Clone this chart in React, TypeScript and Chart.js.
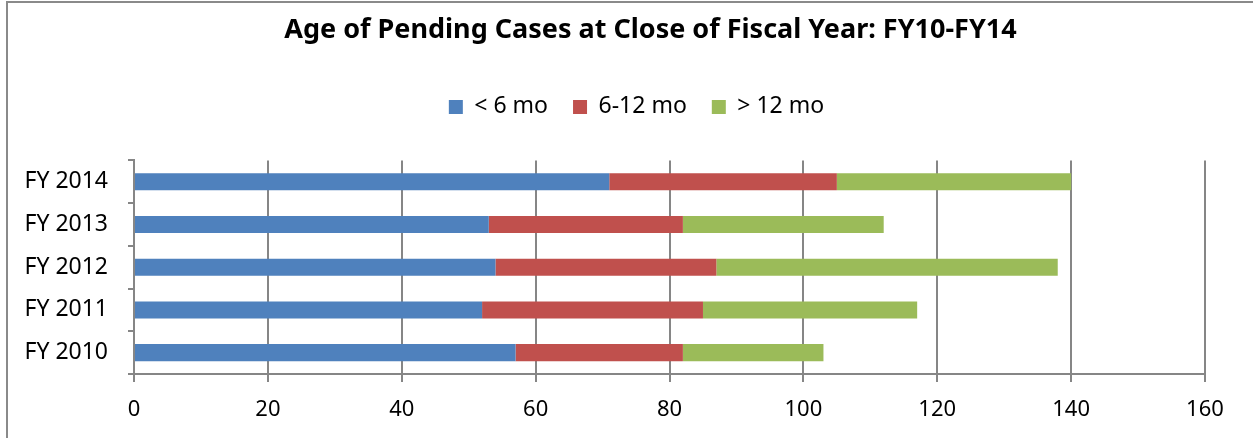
import React, { useEffect, useRef } from "react";
import { Chart, registerables } from "chart.js";

Chart.register(...registerables);

const categories = ["FY 2010", "FY 2011", "FY 2012", "FY 2013", "FY 2014"];
const seriesNames = ["< 6 mo", "6-12 mo", "> 12 mo"];
const lessThan6 = [57, 52, 54, 53, 71];
const between6and12 = [25, 33, 33, 29, 34];
const moreThan12 = [21, 32, 51, 30, 35];
const xTicks = [0, 20, 40, 60, 80, 100, 120, 140, 160];

const FONT = "'Noto Sans', 'Liberation Sans', sans-serif";
const LEGEND_EXTRA = 32;
const TITLE_SHIFT = 38;
const LEGEND_SHIFT = 24;

const layoutTweaks = {
  id: "layoutTweaks",
  afterInit(chart: any) {
    const lg = chart.legend;
    if (lg) {
      const fit = lg.fit;
      lg.fit = function (this: any) {
        fit.call(this);
        this.height += LEGEND_EXTRA;
      };
    }
  },
  afterLayout(chart: any) {
    const t = chart.titleBlock;
    if (t) {
      t.left += TITLE_SHIFT;
      t.right += TITLE_SHIFT;
    }
    const lg = chart.legend;
    if (lg) {
      lg.left += LEGEND_SHIFT;
      lg.right += LEGEND_SHIFT;
    }
  },
};

export default function App() {
  const ref = useRef<HTMLCanvasElement | null>(null);

  useEffect(() => {
    document.body.style.margin = "0";
    document.body.style.overflow = "hidden";
    const canvas = ref.current;
    if (!canvas) return;
    const chart = new Chart(canvas, {
      type: "bar",
      plugins: [layoutTweaks],
      data: {
        labels: categories,
        datasets: [
          { label: seriesNames[0], data: lessThan6, backgroundColor: "#4F81BD" },
          { label: seriesNames[1], data: between6and12, backgroundColor: "#C0504D" },
          { label: seriesNames[2], data: moreThan12, backgroundColor: "#9BBB59" },
        ],
      },
      options: {
        indexAxis: "y",
        responsive: false,
        animation: false,
        maintainAspectRatio: false,
        datasets: { bar: { barPercentage: 0.4, categoryPercentage: 1, borderWidth: 0 } },
        layout: { padding: { left: 20, right: 48, top: 0, bottom: 0 } },
        plugins: {
          tooltip: { enabled: false },
          title: {
            display: true,
            text: "Age of Pending Cases at Close of Fiscal Year: FY10-FY14",
            color: "#000",
            font: { family: FONT, size: 27, weight: "bold" },
            padding: { top: 14, bottom: 24 },
          },
          legend: {
            display: true,
            position: "top",
            labels: {
              color: "#000",
              font: { family: FONT, size: 23 },
              boxWidth: 14,
              boxHeight: 14,
              padding: 25,
            },
          },
        },
        scales: {
          x: {
            stacked: true,
            min: 0,
            max: 160,
            afterBuildTicks: (scale: any) => {
              scale.ticks = xTicks.map((v) => ({ value: v }));
            },
            afterFit: (scale: any) => {
              scale.height = 64;
            },
            ticks: {
              color: "#000",
              font: { family: FONT, size: 22 },
              padding: 15,
              maxRotation: 0,
            },
            grid: {
              color: "#868686",
              lineWidth: 2,
              tickLength: 8,
              drawOnChartArea: true,
            },
            border: { color: "#868686", width: 2 },
          },
          y: {
            stacked: true,
            reverse: true,
            afterFit: (scale: any) => {
              scale.width = 114;
            },
            ticks: {
              color: "#000",
              font: { family: FONT, size: 23 },
              padding: 20,
            },
            grid: {
              color: "#868686",
              lineWidth: 2,
              offset: true,
              drawOnChartArea: false,
              tickLength: 6,
            },
            border: { color: "#868686", width: 2 },
          },
        },
      },
    } as any);
    return () => chart.destroy();
  }, []);

  return (
    <div style={{ position: "relative", width: 1253, height: 438, overflow: "hidden", background: "#fff" }}>
      <div
        style={{
          position: "absolute",
          left: 6,
          top: 1,
          width: 1400,
          height: 600,
          border: "2px solid #8a8a8a",
          boxSizing: "border-box",
        }}
      />
      <canvas ref={ref} width={1253} height={438} style={{ position: "absolute", left: 0, top: 0 }} />
    </div>
  );
}
